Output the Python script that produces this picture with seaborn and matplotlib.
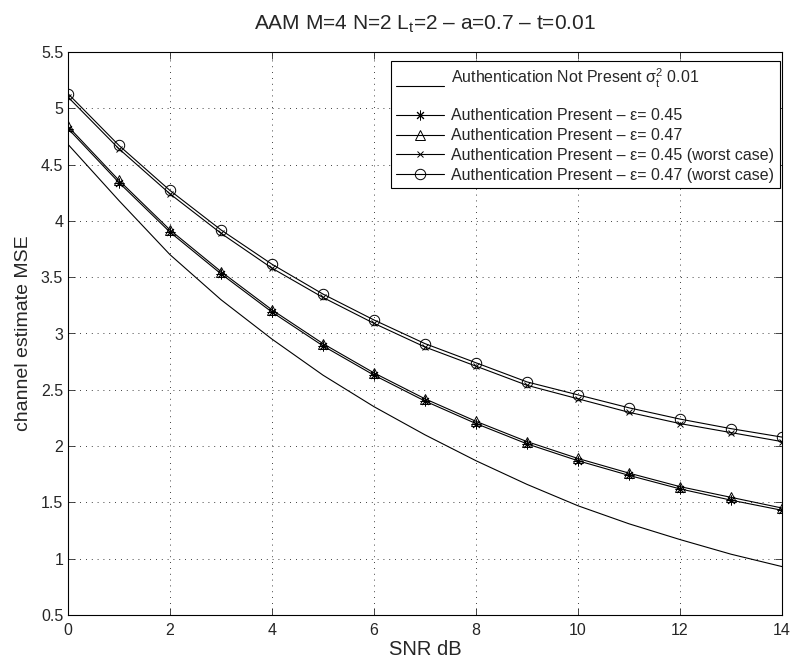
import matplotlib
matplotlib.use("Agg")
import matplotlib.pyplot as plt
import numpy as np
import pandas as pd
import seaborn as sns

# values
snr_db = list(range(0, 15))
not_present = [4.68, 4.18, 3.70, 3.30, 2.95, 2.63, 2.35, 2.10, 1.87, 1.66, 1.47, 1.31, 1.17, 1.04, 0.93]
eps_045 = [4.82, 4.34, 3.90, 3.53, 3.19, 2.89, 2.63, 2.40, 2.20, 2.02, 1.87, 1.74, 1.62, 1.52, 1.43]
eps_047 = [4.84, 4.36, 3.92, 3.55, 3.21, 2.91, 2.65, 2.42, 2.22, 2.04, 1.89, 1.76, 1.64, 1.545, 1.45]
eps_045_worst = [5.10, 4.64, 4.24, 3.89, 3.58, 3.32, 3.09, 2.88, 2.71, 2.54, 2.42, 2.30, 2.20, 2.12, 2.04]
eps_047_worst = [5.13, 4.67, 4.27, 3.92, 3.615, 3.35, 3.12, 2.91, 2.74, 2.57, 2.455, 2.34, 2.24, 2.155, 2.08]

# (label, values, marker, marker size, filled)
series = [
    ("Authentication Not Present $\\mathregular{\\sigma_t^2}$ 0.01\n", not_present, "", 0, False),
    ("Authentication Present \u2013 \u03b5= 0.45", eps_045, (8, 2, 0), 7, True),
    ("Authentication Present \u2013 \u03b5= 0.47", eps_047, "^", 7.5, False),
    ("Authentication Present \u2013 \u03b5= 0.45 (worst case)", eps_045_worst, "x", 5, True),
    ("Authentication Present \u2013 \u03b5= 0.47 (worst case)", eps_047_worst, "o", 7.5, False),
]

sns.set_style("ticks")
plt.rcParams["font.family"] = ["Liberation Sans", "DejaVu Sans"]
plt.rcParams["mathtext.fontset"] = "custom"
plt.rcParams["mathtext.rm"] = "Liberation Sans"
plt.rcParams["mathtext.it"] = "Liberation Sans:italic"

fig, ax = plt.subplots(figsize=(7.93, 6.64), dpi=100)
fig.subplots_adjust(left=68 / 793, right=782 / 793, top=1 - 52 / 664, bottom=1 - 615 / 664)

for label, values, marker, msize, filled in series:
    df = pd.DataFrame({"snr": snr_db, "mse": values})
    sns.lineplot(
        data=df, x="snr", y="mse", ax=ax, color="black", linewidth=0.8,
        marker=marker, markersize=msize,
        markerfacecolor="black" if filled else "none",
        markeredgecolor="black", markeredgewidth=0.7, label=label,
    )

ax.set_xlim(0, 14)
ax.set_ylim(0.5, 5.5)
ax.set_xticks(np.arange(0, 15, 2))
ax.set_yticks(np.arange(0.5, 5.51, 0.5))
ax.set_yticklabels(["0.5", "1", "1.5", "2", "2.5", "3", "3.5", "4", "4.5", "5", "5.5"])
ax.grid(True, linestyle=(0, (1, 6)), color="black", linewidth=0.6)
ax.tick_params(direction="in", top=True, right=True, labelsize=11.5, length=5, width=0.6)
ax.tick_params(axis="x", pad=6)
for s in ax.spines.values():
    s.set_linewidth(0.8)
    s.set_color("black")

ax.set_xlabel("SNR dB", fontsize=14.5, labelpad=1)
ax.set_ylabel("channel estimate MSE", fontsize=14, labelpad=6)
ax.set_title("AAM M=4 N=2 $\\mathregular{L_t}$=2 \u2013 a=0.7 \u2013 t=0.01", fontsize=15, pad=16)

leg = ax.legend(loc="upper right", bbox_to_anchor=(0.997, 0.984), borderaxespad=0,
                fontsize=11.5, frameon=True, fancybox=False,
                edgecolor="black", framealpha=1, handlelength=3.0,
                borderpad=0.35, labelspacing=0.3, handletextpad=0.45)
leg.get_frame().set_linewidth(0.8)
leg.get_texts()[0].set_linespacing(0.9)

fig.savefig("out.png", dpi=100)
